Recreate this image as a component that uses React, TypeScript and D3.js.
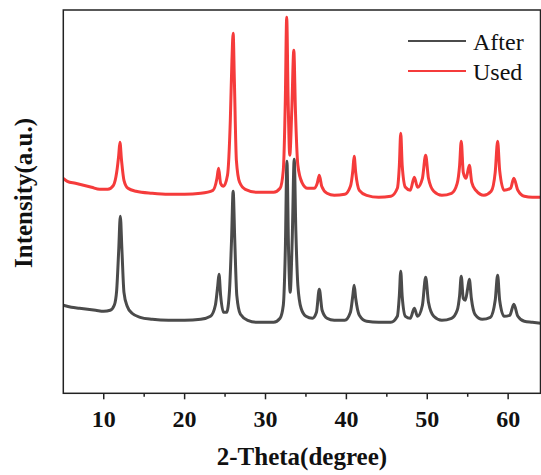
import React from "react";
import * as d3 from "d3";

const afterTheta = [5.0, 6.0, 7.0, 8.0, 9.0, 10.0, 10.8, 11.3, 11.6, 11.85, 12.05, 12.25, 12.5, 12.9, 13.5, 14.5, 16, 18, 20, 22, 23.2, 23.8, 24.1, 24.25, 24.45, 24.8, 25.2, 25.55, 25.8, 26.0, 26.2, 26.45, 26.9, 27.8, 29, 31, 31.8, 32.2, 32.45, 32.65, 32.85, 33.05, 33.3, 33.55, 33.75, 34.0, 34.4, 35.0, 35.8, 36.3, 36.65, 37.0, 37.6, 38.5, 39.8, 40.5, 40.8, 40.96, 41.15, 41.6, 42.5, 44, 45.5, 46.3, 46.55, 46.72, 46.9, 47.3, 47.9, 48.4, 48.8, 49.4, 49.8, 50.15, 50.8, 51.8, 53.0, 53.7, 54.0, 54.2, 54.45, 54.7, 55.0, 55.2, 55.45, 55.9, 56.8, 57.8, 58.4, 58.7, 58.95, 59.5, 60.2, 60.7, 61.2, 62, 63, 64];
const afterIntensity = [88, 86, 85, 84, 83, 82, 83, 88, 103, 143, 177, 143, 101, 87, 80, 76, 74, 73, 73, 74, 77, 88, 108, 119, 98, 81, 81, 103, 153, 202, 153, 98, 79, 73, 71, 71, 75, 88, 143, 232, 143, 101, 153, 234, 163, 108, 85, 77, 75, 81, 104, 83, 75, 73, 73, 81, 98, 108, 95, 78, 72, 71, 71, 77, 98, 122, 97, 77, 75, 85, 77, 88, 116, 91, 77, 73, 75, 83, 98, 117, 95, 93, 105, 114, 95, 79, 74, 76, 93, 118, 93, 77, 78, 89, 77, 72, 71, 70];

const usedTheta = [5.0, 5.5, 6.5, 7.5, 8.5, 9.5, 10.5, 11.2, 11.6, 11.85, 12.0, 12.2, 12.5, 13.0, 14, 16, 18, 20, 22, 23.5, 24.0, 24.2, 24.45, 24.8, 25.3, 25.65, 25.85, 26.0, 26.15, 26.4, 26.8, 27.5, 29, 31, 31.8, 32.2, 32.45, 32.62, 32.8, 33.0, 33.25, 33.5, 33.7, 34.0, 34.5, 35.2, 36.0, 36.4, 36.65, 36.95, 37.6, 38.5, 39.8, 40.5, 40.8, 40.96, 41.15, 41.6, 42.5, 44, 45.5, 46.3, 46.55, 46.72, 46.9, 47.3, 47.9, 48.4, 48.8, 49.4, 49.8, 50.15, 50.8, 51.8, 53.0, 53.7, 54.0, 54.2, 54.45, 54.8, 55.2, 55.5, 56.0, 57.0, 57.9, 58.4, 58.7, 58.95, 59.5, 60.3, 60.7, 61.2, 62, 63, 64];
const usedIntensity = [215, 212, 210, 208, 206, 204, 204, 208, 221, 238, 251, 233, 213, 205, 202, 200, 199, 199, 200, 203, 215, 225, 210, 207, 218, 273, 333, 360, 313, 233, 211, 204, 201, 201, 205, 223, 293, 376, 293, 238, 283, 343, 283, 228, 211, 205, 205, 210, 218, 207, 200, 198, 199, 207, 223, 237, 221, 203, 198, 196, 197, 205, 228, 260, 228, 206, 203, 216, 206, 215, 238, 215, 202, 198, 200, 210, 228, 252, 221, 215, 228, 211, 203, 198, 202, 221, 252, 223, 203, 205, 215, 203, 197, 196, 196];

const seriesNames = ["After", "Used"];
const seriesColors = ["#4b4b4b", "#f53b3b"];
const majorTicks = [10, 20, 30, 40, 50, 60];
const minorTicks = [15, 25, 35, 45, 55];
const xTitle = "2-Theta(degree)";
const yTitle = "Intensity(a.u.)";

const W = 541;
const H = 475;
const L = 63.3;
const R = 540.5;
const T = 10;
const B = 393.3;
const FONT = "'Liberation Serif', 'DejaVu Serif', serif";

export default function App() {
  const x = d3.scaleLinear().domain([5, 64]).range([L, R]);
  const y = d3.scaleLinear().domain([0, 383.3]).range([B, T]);
  const line = d3
    .line<[number, number]>()
    .x((d) => x(d[0]))
    .y((d) => y(d[1]))
    .curve(d3.curveMonotoneX);
  const afterPts = afterTheta.map((t, i) => [t, afterIntensity[i]] as [number, number]);
  const usedPts = usedTheta.map((t, i) => [t, usedIntensity[i]] as [number, number]);
  const series = [afterPts, usedPts];

  return (
    <svg
      width={W}
      height={H}
      style={{ position: "absolute", left: 0, top: 0, background: "#fff" }}
    >
      <defs>
        <clipPath id="plotclip">
          <rect x={L} y={T} width={R - L} height={B - T} />
        </clipPath>
      </defs>
      <g clipPath="url(#plotclip)">
        {series.map((pts, i) => (
          <path
            key={i}
            d={line(pts) || ""}
            fill="none"
            stroke={seriesColors[i]}
            strokeWidth={3}
            strokeLinejoin="round"
          />
        ))}
      </g>
      <rect x={L} y={T} width={R - L} height={B - T} fill="none" stroke="#222" strokeWidth={1.5} />
      {majorTicks.map((t) => (
        <g key={t}>
          <line x1={x(t)} x2={x(t)} y1={B} y2={B + 6} stroke="#222" strokeWidth={1.5} />
          <text
            x={x(t)}
            y={427}
            textAnchor="middle"
            fontFamily={FONT}
            fontWeight="bold"
            fontSize={24}
            fill="#111"
          >
            {t}
          </text>
        </g>
      ))}
      {minorTicks.map((t) => (
        <line key={t} x1={x(t)} x2={x(t)} y1={B} y2={B + 3.5} stroke="#222" strokeWidth={1.5} />
      ))}
      <text
        x={(L + R) / 2}
        y={465}
        textAnchor="middle"
        fontFamily={FONT}
        fontWeight="bold"
        fontSize={25}
        fill="#111"
      >
        {xTitle}
      </text>
      <text
        transform={`translate(32, 193) rotate(-90)`}
        textAnchor="middle"
        fontFamily={FONT}
        fontWeight="bold"
        fontSize={25}
        fill="#111"
      >
        {yTitle}
      </text>
      {seriesNames.map((n, i) => (
        <g key={n}>
          <line x1={408} x2={466} y1={41 + i * 30} y2={41 + i * 30} stroke={seriesColors[i]} strokeWidth={2} />
          <text x={473} y={50 + i * 29.5} fontFamily={FONT} fontSize={24} fill="#111">
            {n}
          </text>
        </g>
      ))}
    </svg>
  );
}
